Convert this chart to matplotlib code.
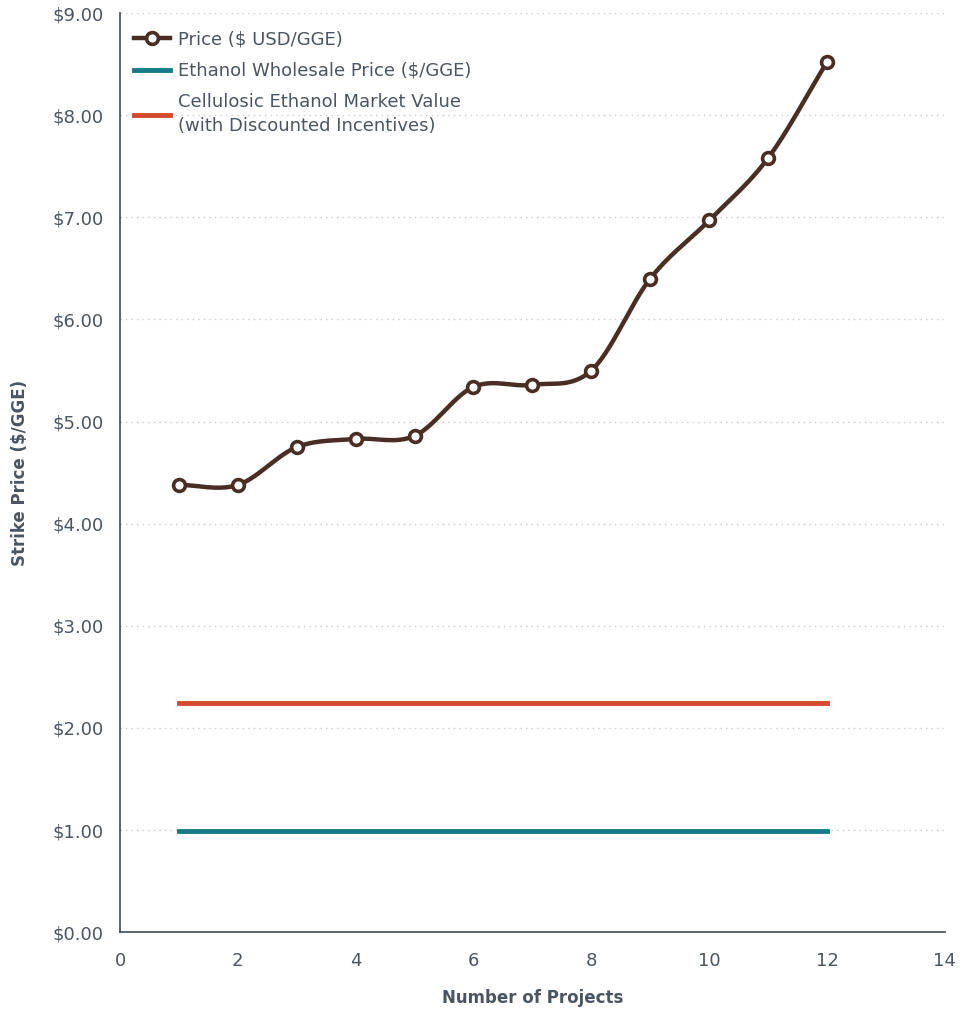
import matplotlib.pyplot as plt
import numpy as np

# data
projects = [1, 2, 3, 4, 5, 6, 7, 8, 9, 10, 11, 12]
price = [4.38, 4.38, 4.75, 4.83, 4.86, 5.34, 5.36, 5.50, 6.40, 6.97, 7.58, 8.52]
wholesale = 0.99
market_value = 2.24

x_ticks = [0, 2, 4, 6, 8, 10, 12, 14]
y_ticks = [0, 1, 2, 3, 4, 5, 6, 7, 8, 9]

brown = '#4b2e23'
teal = '#157a8a'
orange = '#d44a2b'
txt = '#4a5561'


def smooth(xs, ys, n=30):
    # catmull-rom through the points, like a spreadsheet "smoothed line"
    xs = np.asarray(xs, float)
    ys = np.asarray(ys, float)
    px = np.concatenate([[2 * xs[0] - xs[1]], xs, [2 * xs[-1] - xs[-2]]])
    py = np.concatenate([[2 * ys[0] - ys[1]], ys, [2 * ys[-1] - ys[-2]]])
    out_x, out_y = [], []
    t = np.linspace(0, 1, n)
    for i in range(1, len(px) - 2):
        for p, out in ((px, out_x), (py, out_y)):
            p0, p1, p2, p3 = p[i - 1], p[i], p[i + 1], p[i + 2]
            out.extend(0.5 * ((2 * p1) + (-p0 + p2) * t
                              + (2 * p0 - 5 * p1 + 4 * p2 - p3) * t ** 2
                              + (-p0 + 3 * p1 - 3 * p2 + p3) * t ** 3))
    return np.array(out_x), np.array(out_y)


plt.rcParams['font.family'] = ['DejaVu Sans']

fig = plt.figure(figsize=(9.68, 10.11), dpi=100)
ax = fig.add_axes([0.124, 0.078, 0.852, 0.909])

sx, sy = smooth(projects, price)
ax.plot(sx, sy, color=brown, lw=3.2, zorder=3, solid_capstyle='round')
ax.plot(projects, price, 'o', color=brown, mfc='white', mew=2.6, ms=8.5, zorder=4)
ax.plot([], [], '-o', color=brown, mfc='white', mew=2.6, ms=8.5, lw=3.2, label='Price ($ USD/GGE)')

ax.plot([projects[0], projects[-1]], [wholesale, wholesale], color=teal, lw=3.5,
        label='Ethanol Wholesale Price ($/GGE)', zorder=2)
ax.plot([projects[0], projects[-1]], [market_value, market_value], color=orange, lw=3.5,
        label='Cellulosic Ethanol Market Value\n(with Discounted Incentives)', zorder=2)

ax.set_xlim(0, 14)
ax.set_ylim(0, 9)
ax.set_xticks(x_ticks)
ax.set_yticks(y_ticks)
ax.set_yticklabels(['${:.2f}'.format(v) for v in y_ticks])
ax.tick_params(length=0, labelsize=13, colors=txt, pad=12)
ax.tick_params(axis='x', pad=14)

ax.grid(axis='y', color='#cccccc', ls=(0, (1, 3)), lw=1.0)
ax.set_axisbelow(True)
for s in ['top', 'right']:
    ax.spines[s].set_visible(False)
for s in ['left', 'bottom']:
    ax.spines[s].set_color('#3d4a57')
    ax.spines[s].set_linewidth(1.2)

ax.set_xlabel('Number of Projects', fontsize=12, fontweight='bold', color=txt)
ax.xaxis.set_label_coords(0.5, -0.062)
ax.set_ylabel('Strike Price ($/GGE)', fontsize=12, fontweight='bold', color=txt)
ax.yaxis.set_label_coords(-0.11, 0.5)

leg = ax.legend(loc='upper left', bbox_to_anchor=(0.0, 0.996), frameon=False, fontsize=13,
                handlelength=2.0, handletextpad=0.45, labelspacing=0.75, borderaxespad=0.35)
for t in leg.get_texts():
    t.set_color(txt)
    t.set_linespacing(1.4)

fig.savefig('out.png', dpi=100, facecolor='white')
